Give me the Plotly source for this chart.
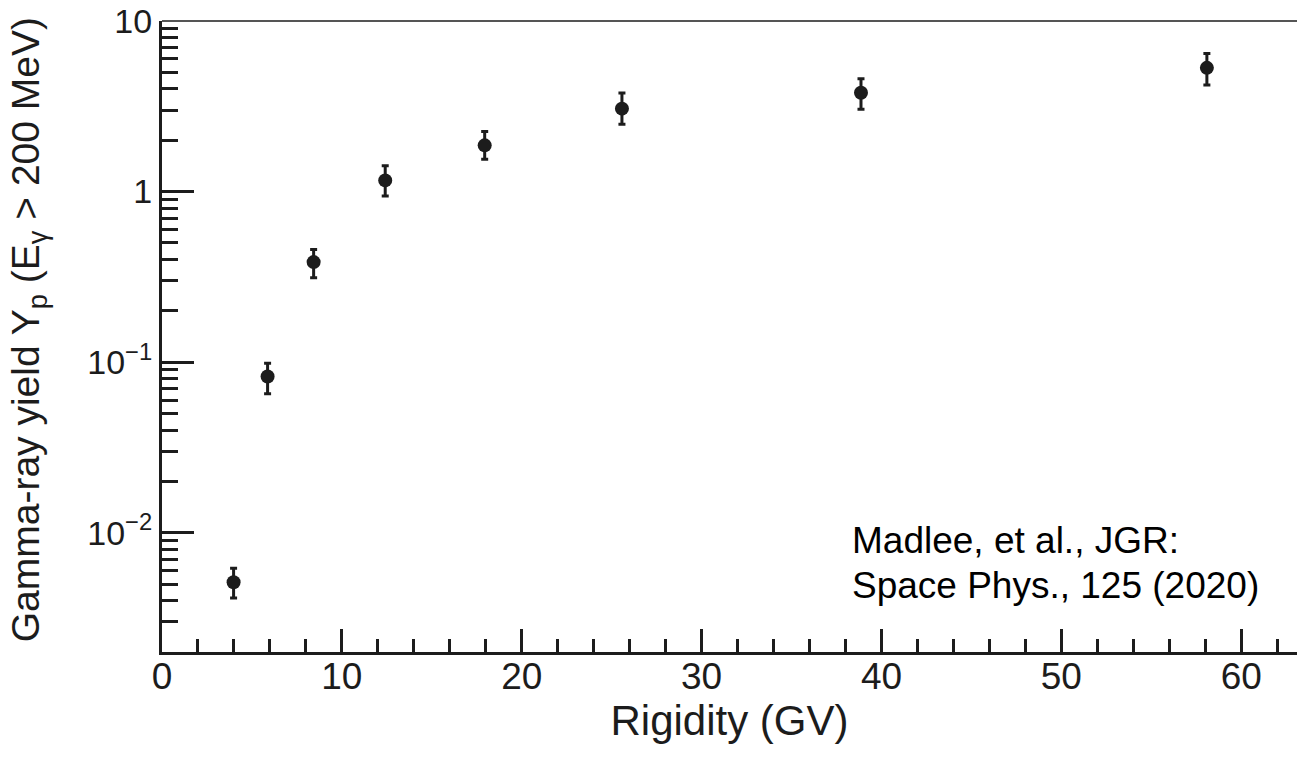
import plotly.graph_objects as go

# Data
rigidity = [3.98, 5.87, 8.43, 12.41, 17.94, 25.57, 38.86, 58.09]
yield_p = [0.00513, 0.0824, 0.386, 1.163, 1.866, 3.064, 3.80, 5.315]
err_hi = [0.0062, 0.0986, 0.458, 1.418, 2.25, 3.783, 4.594, 6.44]
err_lo = [0.00415, 0.0653, 0.3126, 0.941, 1.545, 2.478, 3.035, 4.22]

y_major = [0.01, 0.1, 1, 10]
y_major_text = ["10<sup>\u22122</sup>", "10<sup>\u22121</sup>", "1", "10"]
y_minor = [m * 10.0 ** e for e in (-3, -2, -1, 0) for m in range(2, 10)]

ink = "#1c1c1c"
font_family = "Arial"

plus = [h - v for h, v in zip(err_hi, yield_p)]
minus = [v - l for l, v in zip(err_lo, yield_p)]

fig = go.Figure()
fig.add_trace(go.Scatter(
    x=rigidity, y=yield_p, mode="markers",
    marker=dict(size=14, color=ink, line=dict(width=0)),
    error_y=dict(type="data", symmetric=False, array=plus, arrayminus=minus,
                 color=ink, thickness=3, width=3.5),
    showlegend=False,
))

fig.update_layout(
    width=1297, height=758,
    margin=dict(l=162, r=0, t=21, b=106),
    paper_bgcolor="white", plot_bgcolor="white",
    font=dict(family=font_family, color=ink),
    xaxis=dict(
        range=[0, 63.1], showgrid=False, zeroline=False,
        showline=True, linecolor=ink, linewidth=3,
        ticks="inside", ticklen=23, tickwidth=2.5, tickcolor=ink,
        tickmode="linear", tick0=0, dtick=10,
        tickfont=dict(size=37, color=ink, family=font_family),
        ticklabelstandoff=-10,
        minor=dict(ticks="inside", ticklen=13, tickwidth=2.5, tickcolor=ink,
                   tickmode="linear", tick0=0, dtick=2),
        title=dict(text="Rigidity (GV)", font=dict(size=42, color=ink, family=font_family), standoff=10),
    ),
    yaxis=dict(
        type="log", range=[-2.699, 1], showgrid=False, zeroline=False,
        showline=True, linecolor=ink, linewidth=3,
        ticks="inside", ticklen=32, tickwidth=3, tickcolor=ink,
        tickmode="array", tickvals=y_major, ticktext=y_major_text,
        tickfont=dict(size=34, color=ink, family=font_family),
        minor=dict(ticks="inside", ticklen=16, tickwidth=3, tickcolor=ink,
                   tickmode="array", tickvals=y_minor),
    ),
    shapes=[dict(type="line", xref="paper", yref="paper", x0=0, x1=1, y0=1, y1=1,
                 line=dict(color="#555555", width=2))],
    annotations=[
        dict(text="Gamma-ray yield Y<sub>p</sub> (E<sub>\u03b3</sub> &gt; 200 MeV)",
             xref="paper", yref="paper", x=-0.118, y=0.51, textangle=-90,
             xanchor="center", yanchor="middle", showarrow=False,
             font=dict(size=39, color=ink, family=font_family)),
        dict(text="Madlee, et al., JGR:", xref="paper", yref="paper",
             x=(850 - 162) / 1135, y=(651.7 - 540) / 631, xanchor="left", yanchor="middle",
             showarrow=False, font=dict(size=37, color="black", family=font_family)),
        dict(text="Space Phys., 125 (2020)", xref="paper", yref="paper",
             x=(850 - 162) / 1135, y=(651.7 - 585) / 631, xanchor="left", yanchor="middle",
             showarrow=False, font=dict(size=37, color="black", family=font_family)),
    ],
)

fig.write_html("out.html")
